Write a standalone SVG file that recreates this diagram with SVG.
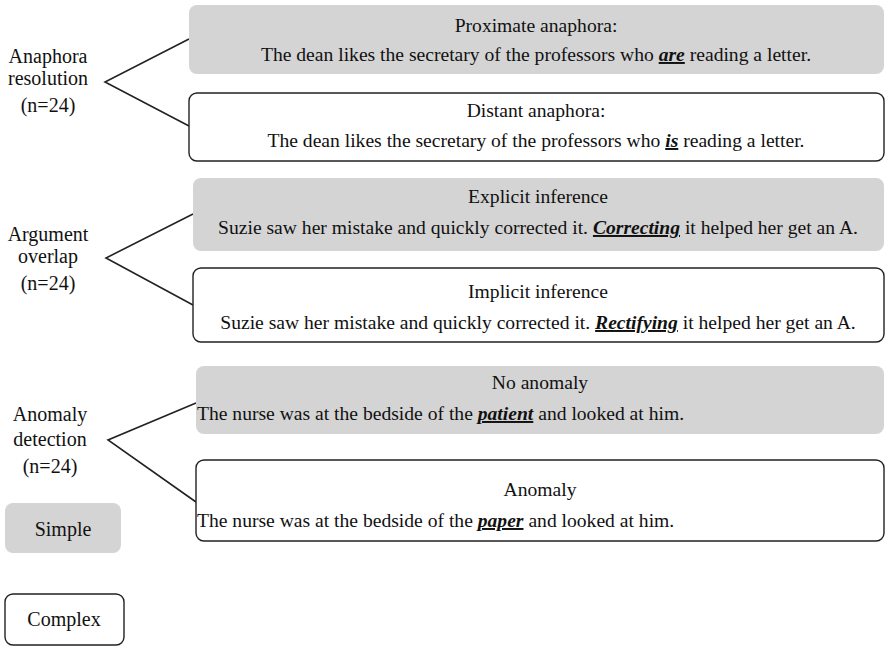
<svg xmlns="http://www.w3.org/2000/svg" width="889" height="646" viewBox="0 0 889 646">
<style>
.c{text-anchor:middle}
.g{fill:#d4d4d4;stroke:none}
.w{fill:#fff;stroke:#222;stroke-width:1.4}
.e{font-weight:bold;font-style:italic;text-decoration:underline}
.ln{stroke:#222;stroke-width:1.6;fill:none}
.lb{font-size:20px}
</style>
<rect width="889" height="646" fill="#fff"/>
<g id="connectors">
<polyline class="ln" points="189,39 105,82 189,126"/>
<polyline class="ln" points="193,214 106,258 193,305"/>
<polyline class="ln" points="196,403 108,440 196,502"/>
</g>
<g font-family="'Liberation Serif', 'Times New Roman', serif" font-size="19.6" fill="#111">
<g id="anaphora-label" class="lb">
<text class="c" x="48" y="63">Anaphora</text>
<text class="c" x="48" y="85">resolution</text>
<text class="c" x="48" y="112">(n=24)</text>
</g>
<g id="argument-label" class="lb">
<text class="c" x="48" y="241">Argument</text>
<text class="c" x="48" y="263">overlap</text>
<text class="c" x="48" y="290">(n=24)</text>
</g>
<g id="anomaly-label" class="lb">
<text class="c" x="50" y="421">Anomaly</text>
<text class="c" x="50" y="446">detection</text>
<text class="c" x="50" y="473">(n=24)</text>
</g>
<g id="proximate">
<rect class="g" x="189" y="5" width="695" height="69" rx="8"/>
<text class="c" x="536" y="32">Proximate anaphora:</text>
<text class="c" x="536" y="61">The dean likes the secretary of the professors who <tspan class="e">are</tspan> reading a letter.</text>
</g>
<g id="distant">
<rect class="w" x="189" y="93" width="695" height="68" rx="8"/>
<text class="c" x="536" y="117">Distant anaphora:</text>
<text class="c" x="536" y="147">The dean likes the secretary of the professors who <tspan class="e">is</tspan> reading a letter.</text>
</g>
<g id="explicit">
<rect class="g" x="193" y="178" width="691" height="73" rx="8"/>
<text class="c" x="538" y="203">Explicit inference</text>
<text class="c" x="538" y="234">Suzie saw her mistake and quickly corrected it. <tspan class="e">Correcting</tspan> it helped her get an A.</text>
</g>
<g id="implicit">
<rect class="w" x="193" y="268" width="691" height="74" rx="8"/>
<text class="c" x="538" y="298">Implicit inference</text>
<text class="c" x="538" y="329">Suzie saw her mistake and quickly corrected it. <tspan class="e">Rectifying</tspan> it helped her get an A.</text>
</g>
<g id="no-anomaly">
<rect class="g" x="196" y="366" width="688" height="68" rx="8"/>
<text class="c" x="540" y="389">No anomaly</text>
<text x="197" y="420">The nurse was at the bedside of the <tspan class="e">patient</tspan> and looked at him.</text>
</g>
<g id="anomaly">
<rect class="w" x="196" y="460" width="688" height="81" rx="8"/>
<text class="c" x="540" y="496">Anomaly</text>
<text x="197" y="527">The nurse was at the bedside of the <tspan class="e">paper</tspan> and looked at him.</text>
</g>
<g id="simple" class="lb">
<rect class="g" x="5" y="503" width="116" height="50" rx="8"/>
<text class="c" x="63" y="536">Simple</text>
</g>
<g id="complex" class="lb">
<rect class="w" x="5" y="594" width="119" height="51" rx="8"/>
<text class="c" x="64" y="626">Complex</text>
</g>
</g>
</svg>
